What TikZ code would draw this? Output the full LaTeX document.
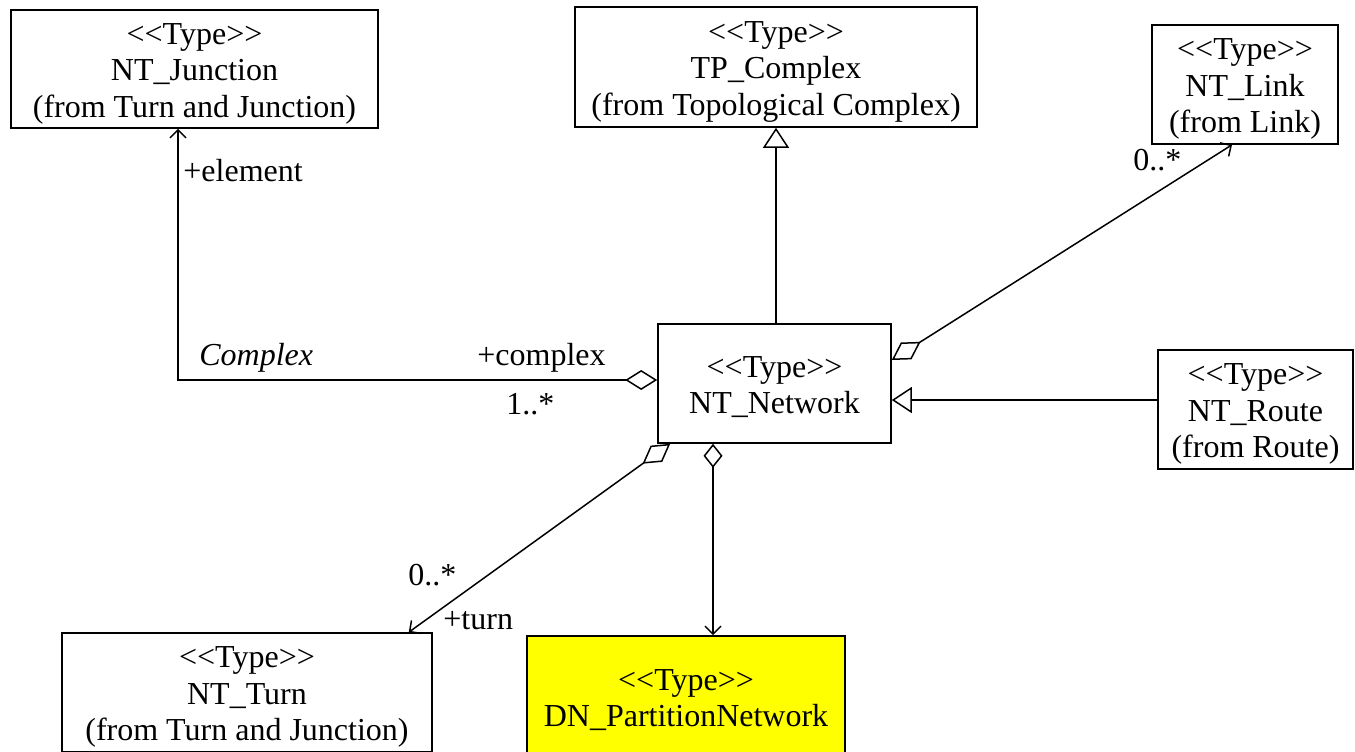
\documentclass[tikz,border=0pt]{standalone}
\usepackage{fontspec}
\setmainfont{Liberation Serif}[Ligatures=TeXOff]
\usetikzlibrary{arrows.meta}
\definecolor{uyellow}{RGB}{255,255,0}
\newcommand\tstrut{\rule{0pt}{15pt}}
\tikzset{
  umlfont/.style={font=\fontsize{16pt}{18.25pt}\selectfont},
  cls/.style={draw, line width=0.8pt, rectangle, inner sep=0pt, align=center, umlfont},
  lbl/.style={inner sep=0pt, umlfont},
  conn/.style={line width=0.75pt},
  opena/.tip={Straight Barb[length=4pt,width=8pt,line width=0.75pt]},
  hollowtri/.tip={Triangle[open,length=10pt,width=13pt,line width=0.75pt]},
  hdia/.tip={Diamond[open,length=16pt,width=10pt,line width=0.75pt]},
  sdia/.tip={Diamond[open,length=17pt,width=10pt,line width=0.75pt]},
  vdia/.tip={Diamond[open,length=12pt,width=9.5pt,line width=0.75pt]},
}
\begin{document}
\begin{tikzpicture}[x=0.5pt,y=-0.5pt]
\useasboundingbox (0,0) rectangle (1355,751);
\fill[white] (0,0) rectangle (1355,751);
\clip (0,0) rectangle (1355,751);

\node[cls, minimum width=183.5pt, minimum height=59pt] (junc) at (194.5,69) {\tstrut<<Type>>\\NT\_Junction\\(from Turn and Junction)};
\node[cls, minimum width=201pt, minimum height=60pt] (tpc) at (776,67) {\tstrut<<Type>>\\TP\_Complex\\(from Topological Complex)};
\node[cls, minimum width=93pt, minimum height=59.5pt] (link) at (1245,84.5) {\tstrut<<Type>>\\NT\_Link\\(from Link)};
\node[cls, minimum width=116.5pt, minimum height=59.5pt] (net) at (774.5,383.5) {\rule{0pt}{14pt}<<Type>>\\NT\_Network};
\node[cls, minimum width=97.5pt, minimum height=59.5pt] (route) at (1255.5,409.5) {\tstrut<<Type>>\\NT\_Route\\(from Route)};
\node[cls, minimum width=185pt, minimum height=59.5pt] (turn) at (247,692.5) {\tstrut<<Type>>\\NT\_Turn\\(from Turn and Junction)};
\node[cls, fill=uyellow, minimum width=159pt, minimum height=59.5pt] (dn) at (686,695.5) {\tstrut<<Type>>\\DN\_PartitionNetwork};

% generalizations
\draw[conn,-hollowtri] (tpc.south |- net.north) -- (tpc.south);
\draw[conn,-hollowtri] ([yshift=4.75pt]route.west) coordinate (rw) -- (rw -| net.east);

% associations
\draw[conn,opena-hdia] ([xshift=-8.25pt]junc.south) |- ([yshift=1.75pt]net.west);
\draw[conn,sdia-opena] ([yshift=11.75pt]net.east) -- ([xshift=-6.5pt]link.south);
\draw[conn,sdia-opena] ([xshift=6.5pt]net.south west) -- ([xshift=-12pt]turn.north east);
\draw[conn,vdia-opena] ([xshift=-30.75pt]net.south) coordinate (dtop) -- (dtop |- dn.north);

% labels
\node[lbl, anchor=west] (l1) at (183,171) {+element};
\node[lbl, anchor=west] (l2) at (199,358) {\itshape Complex};
\node[lbl, anchor=west] (l3) at (477,358) {+complex};
\node[lbl, anchor=west] (l4) at (506,404) {1..*};
\node[lbl, anchor=west] (l5) at (1133,160) {0..*};
\node[lbl, anchor=west] (l6) at (408,575) {0..*};
\node[lbl, anchor=west] (l7) at (443,621) {+turn};
\end{tikzpicture}
\end{document}
